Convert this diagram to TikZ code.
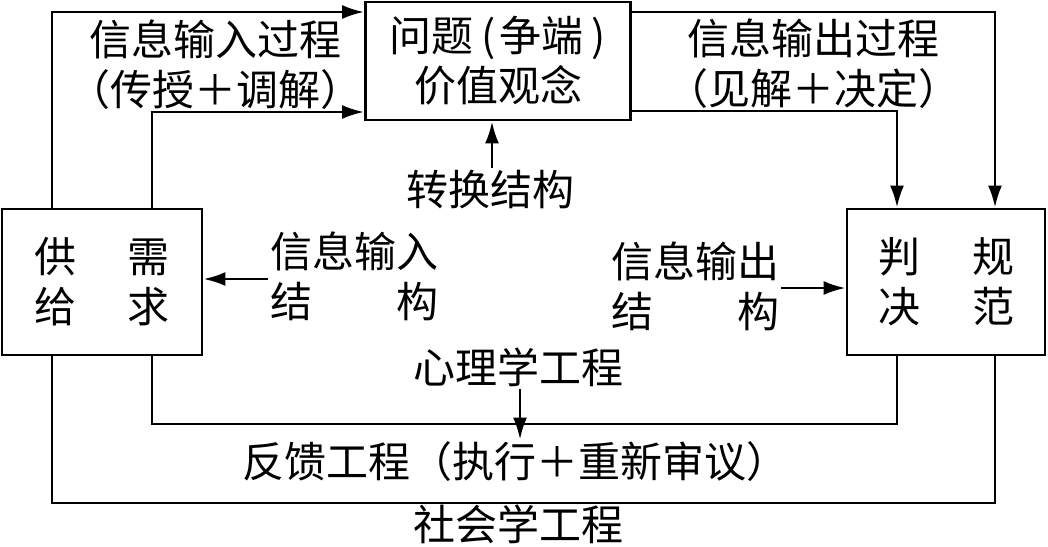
\documentclass[tikz,border=0pt]{standalone}
\usepackage{fontspec}
\setmainfont{Noto Sans CJK SC}
\usetikzlibrary{arrows.meta}
\tikzset{
  kuang/.style={draw, line width=1.4pt, inner sep=0pt, align=center},
  wenzi/.style={inner sep=1pt, align=center},
  xian/.style={line width=1.4pt},
  jiantou/.style={xian, -{Latex[length=11pt,width=7pt]}},
}
\begin{document}
\begin{tikzpicture}[x=0.5pt, y=-0.5pt, font=\fontsize{21}{25}\selectfont]
\useasboundingbox (0,0) rectangle (1048,546);
% 方框
\node[kuang, minimum width=132.5pt, minimum height=59pt] (wt) at (498,61) {问题\hspace{4pt}(\hspace{2pt}争端\hspace{4pt})\\价值观念};
\node[kuang, minimum width=100pt, minimum height=73pt] (gx) at (102,282) {供\hspace{26pt}需\\给\hspace{26pt}求};
\node[kuang, minimum width=99pt, minimum height=73pt] (pj) at (946,282) {判\hspace{26pt}规\\决\hspace{26pt}范};
% 文字
\node[wenzi] (srgc) at (215,65) {信息输入过程\\（传授＋调解）};
\node[wenzi] (scgc) at (813,64) {信息输出过程\\（见解＋决定）};
\node[wenzi] (zh) at (490,190) {转换结构};
\node[wenzi] (srjg) at (354,276) {信息输入\\结　　构};
\node[wenzi] (scjg) at (695,286) {信息输出\\结　　构};
\node[wenzi] (xl) at (518,367) {心理学工程};
\node[wenzi] (fk) at (515,462) {反馈工程（执行＋重新审议）};
\node[wenzi] (sh) at (518,524) {社会学工程};
% 输入过程
\draw[jiantou] (gx.north -| 52,0) |- (wt.west |- 0,12);
\draw[jiantou] (gx.north -| 152,0) |- (wt.west |- 0,112);
% 输出过程
\draw[jiantou] (wt.east |- 0,12) -| (pj.north -| 995,0);
\draw[jiantou] (wt.east |- 0,111) -| (pj.north -| 897,0);
% 结构
\draw[jiantou] (zh.north -| 492,0) -- (wt.south -| 492,0);
\draw[jiantou] (srjg.west |- 0,279) -- (gx.east |- 0,279);
\draw[jiantou] (scjg.east |- 0,288) -- (pj.west |- 0,288);
\draw[jiantou] (xl.south -| 520,0) -- (fk.north -| 520,0);
% 反馈
\draw[xian] (gx.south -| 152,0) -- (152,424) -| (pj.south -| 897,0);
\draw[xian] (gx.south -| 52,0) -- (52,503) -| (pj.south -| 995,0);
\end{tikzpicture}
\end{document}
